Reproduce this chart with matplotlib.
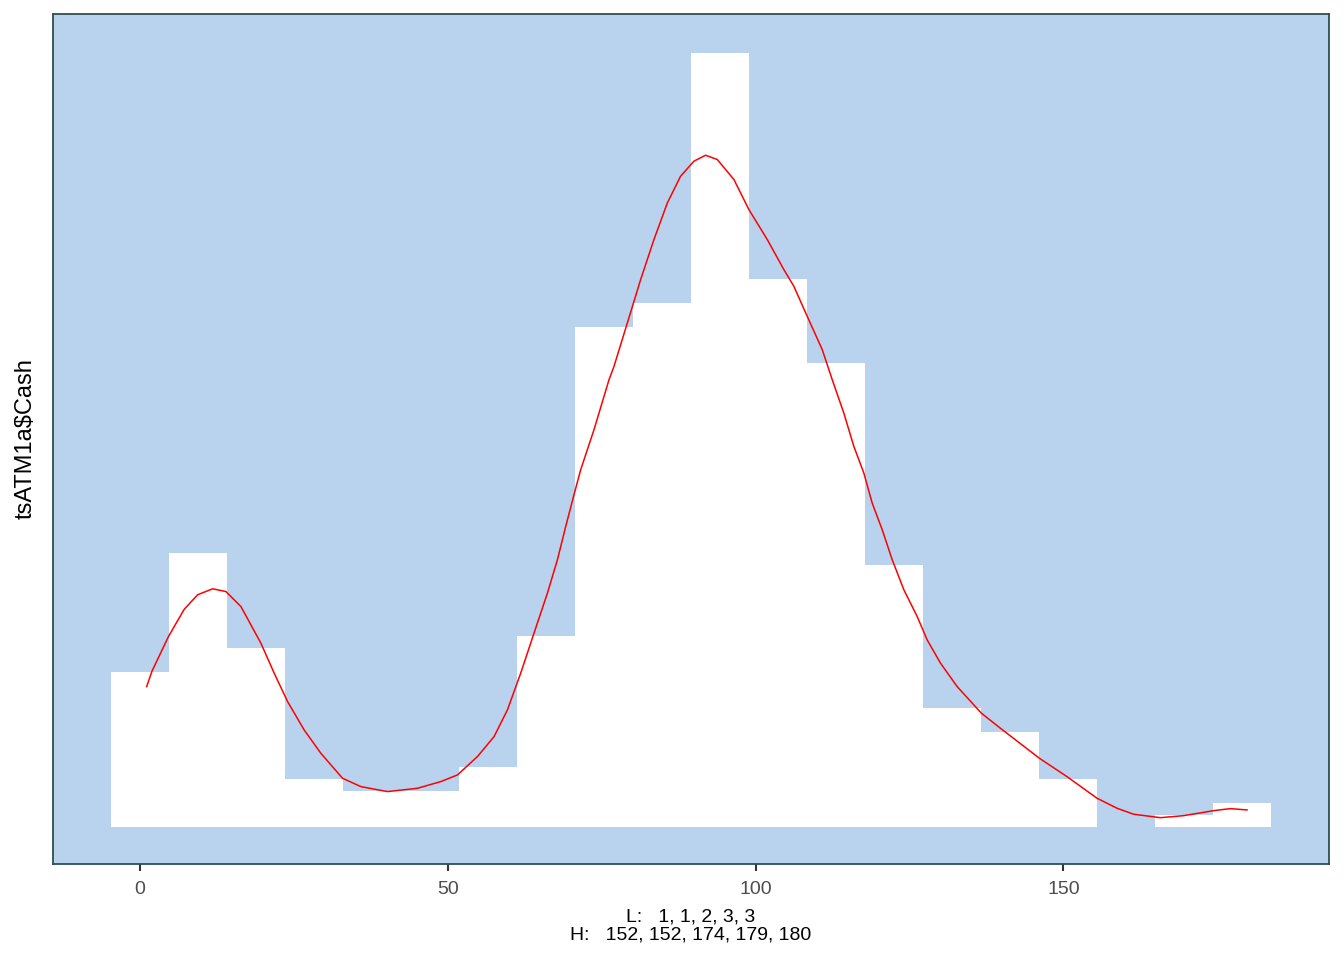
import numpy as np
import matplotlib.pyplot as plt

# histogram counts (20 bins, width 179/19, centred on 0 .. 179)
counts = [13, 23, 15, 4, 3, 3, 5, 16, 42, 44, 65, 46, 39, 22, 10, 8, 4, 0, 1, 2]
bin_width = 179 / 19
first_edge = -bin_width / 2

# smooth red curve (x, count scale)
curve_x = [1.09, 1.95, 4.66, 7.19, 9.37, 11.80, 13.96, 16.40, 19.64, 21.80,
           23.98, 26.67, 29.38, 32.91, 35.88, 40.21, 45.08, 48.86, 51.57, 54.82,
           57.52, 59.69, 61.85, 64.01, 66.19, 67.81, 69.16, 70.50, 71.59, 73.75,
           76.19, 77.00, 79.17, 81.33, 83.49, 85.67, 87.82, 89.98, 91.88, 93.78,
           96.48, 98.91, 101.90, 104.59, 106.22, 108.39, 110.83, 112.45, 114.33, 115.96,
           117.58, 118.94, 120.57, 122.19, 124.08, 126.25, 127.87, 130.03, 132.74, 136.69,
           139.77, 146.10, 150.60, 155.47, 158.72, 161.41, 165.75, 169.53, 174.40, 177.11,
           179.82]
curve_y = [11.79, 13.08, 16.02, 18.28, 19.50, 20.00, 19.77, 18.51, 15.44, 12.92,
           10.53, 8.15, 6.19, 4.09, 3.39, 2.97, 3.25, 3.81, 4.37, 5.91,
           7.59, 9.83, 12.92, 16.28, 19.64, 22.44, 25.24, 27.90, 30.00, 33.36,
           37.56, 38.68, 42.33, 45.97, 49.33, 52.41, 54.65, 55.91, 56.41, 56.05,
           54.37, 51.85, 49.33, 46.81, 45.40, 42.88, 40.08, 37.56, 34.76, 31.96,
           29.72, 27.20, 24.96, 22.44, 19.92, 17.67, 15.71, 13.76, 11.79, 9.55,
           8.29, 5.77, 4.22, 2.41, 1.57, 1.07, 0.78, 0.95, 1.37, 1.54,
           1.43]

x_ticks = [0, 50, 100, 150]
low_vals = "1, 1, 2, 3, 3"
high_vals = "152, 152, 174, 179, 180"

plt.rcParams['font.family'] = ['Liberation Sans', 'DejaVu Sans']

fig = plt.figure(figsize=(13.44, 9.6), dpi=100)
ax = fig.add_axes([0.0394, 0.1, 0.9494, 0.8854])
ax.set_facecolor('#B9D3EE')

edges = first_edge + bin_width * np.arange(len(counts) + 1)
ax.bar(edges[:-1], counts, width=bin_width, align='edge', color='white',
       linewidth=0)
ax.plot(curve_x, curve_y, color='red', lw=1.1, solid_joinstyle='round')

lo, hi = edges[0], edges[-1]
pad = (hi - lo) * 0.05
ax.set_xlim(lo - pad, hi + pad)
ax.set_ylim(-3.11, 68.27)

ax.set_xticks(x_ticks)
ax.set_yticks([])
ax.tick_params(axis='x', colors='#333333', labelcolor='#4D4D4D',
               labelsize=14, length=5, width=1.5, pad=7)
for s in ax.spines.values():
	s.set_color('#2F4F4F')
	s.set_linewidth(1.3)

ax.set_xlabel("L:   " + low_vals + "\nH:   " + high_vals, fontsize=14,
              linespacing=1.05, labelpad=8)
ax.set_ylabel("tsATM1a$Cash", fontsize=17, labelpad=12)

fig.savefig('out.png', dpi=100)
